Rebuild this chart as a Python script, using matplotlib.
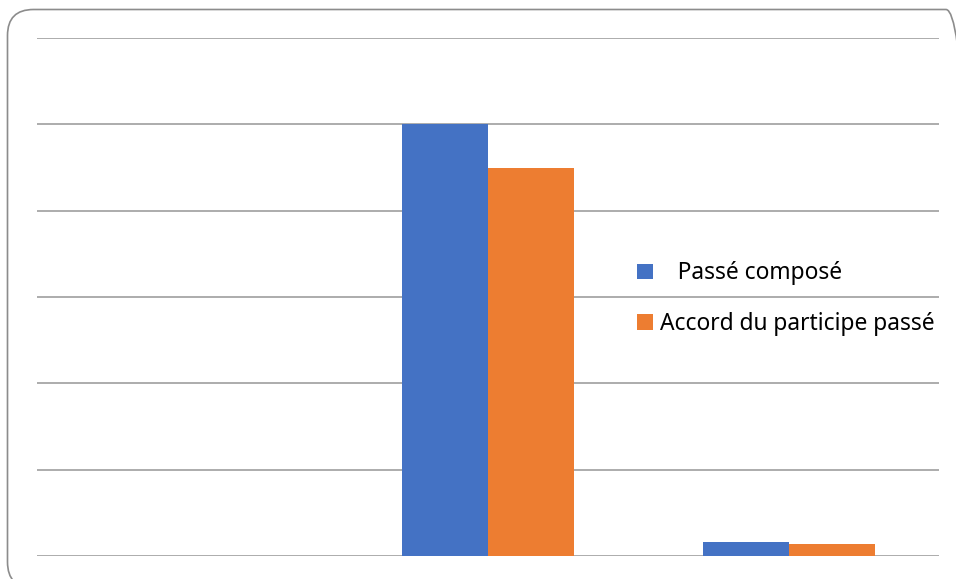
from matplotlib import pyplot as plt
from matplotlib.patches import FancyBboxPatch
import numpy as np

# values (no axis labels shown in the original)
categories = ['Groupe 1', 'Groupe 2', 'Groupe 3']
passe_compose = [0.0, 5.0, 0.16]
accord_participe = [0.0, 4.5, 0.14]
series_labels = ['   Passé composé', 'Accord du participe passé']
colors = ['#4472C4', '#ED7D31']

plt.rcParams['font.family'] = ['Noto Sans', 'DejaVu Sans']

W, H = 956, 579
fig = plt.figure(figsize=(W / 100, H / 100), dpi=100)

# rounded frame around the chart (partly cut by the image edge), in inches
frame = FancyBboxPatch((0.075, (H - 588) / 100), (972 - 7.5) / 100, (588 - 9.5) / 100,
                       boxstyle='round,pad=0,rounding_size=0.26',
                       transform=fig.dpi_scale_trans, facecolor='none',
                       edgecolor='#8c8c8c', linewidth=1.2)
fig.patches.append(frame)

ax = fig.add_axes([37 / W, 1 - 556 / H, (939 - 37) / W, (556 - 38) / H])
x = np.arange(len(categories))
width = 0.286
ax.bar(x - width / 2, passe_compose, width, color=colors[0],
       label=series_labels[0], zorder=3)
ax.bar(x + width / 2, accord_participe, width, color=colors[1],
       label=series_labels[1], zorder=3)

ax.set_xlim(-0.5, 2.5)
ax.set_ylim(0, 6)
ax.set_yticks(range(0, 7))
ax.grid(axis='y', color='#a6a6a6', linewidth=1.3, zorder=0)
ax.tick_params(left=False, bottom=False, labelleft=False, labelbottom=False)
ax.set_xticks(x)
for side in ['top', 'right', 'left', 'bottom']:
    ax.spines[side].set_visible(False)

ax.legend(loc='upper left', bbox_to_anchor=(626 / W, 1 - 250 / H),
          bbox_transform=fig.transFigure, frameon=False, fontsize=16.4,
          handlelength=0.68, handleheight=0.68, handletextpad=0.3,
          labelspacing=1.18, borderpad=0)

fig.savefig('out.png', dpi=100)
plt.close()
